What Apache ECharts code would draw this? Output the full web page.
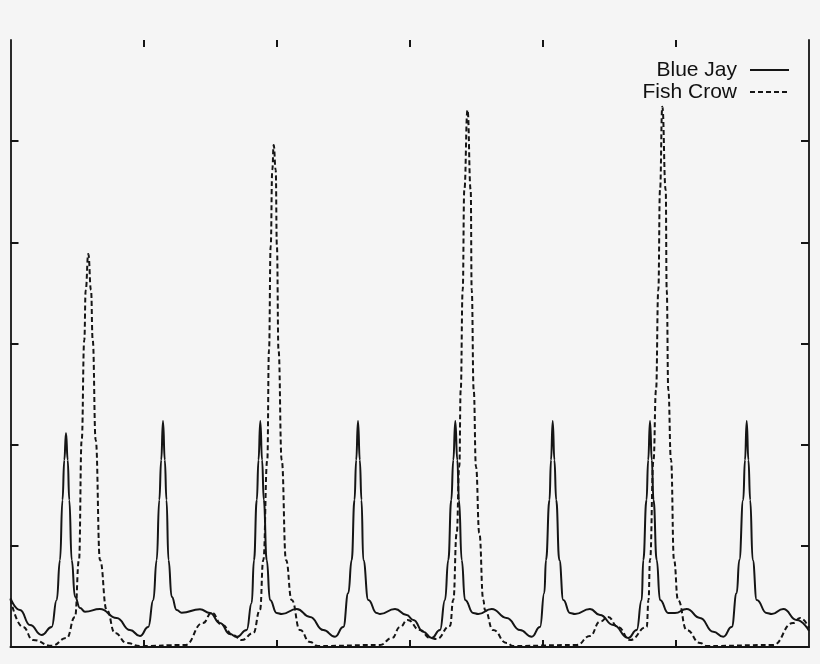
<!DOCTYPE html>
<html>
<head>
<meta charset="utf-8">
<script src="https://cdn.jsdelivr.net/npm/echarts@6/dist/echarts.min.js"></script>
<style>
html,body{margin:0;padding:0;background:#f5f5f5;}
#chart{width:820px;height:664px;}
</style>
</head>
<body>
<div id="chart"></div>
<script>
// Series names
const seriesNames = ['Blue Jay', 'Fish Crow'];

// Blue Jay (solid)
const blueJayX = [0, 7.14, 14.65, 23.44, 30.96, 34.72, 37.2, 39.07, 40.43, 41.7, 42.98, 44.18, 45.99, 48.47, 52.23, 55.98, 67.25, 79.8, 89.79,
  97.31, 103.54, 107.3, 109.86, 111.81, 113.24, 114.59, 115.94, 117.22, 118.72, 121.13, 124.88, 128.64, 142.39, 149.91, 157.42, 164.93,
  169.97, 177.48, 181.24, 182.97, 185.07, 186.35, 187.7, 189.05, 190.33, 192.51, 194.99, 200.03, 203.78, 215.05, 225.05, 235.04,
  243.83, 250.07, 253.83, 256.38, 258.49, 259.76, 261.12, 262.47, 263.74, 265.1, 268.86, 275.17, 277.65, 288.92, 297.71, 302.67, 310.18,
  316.49, 322.73, 326.49, 328.97, 331.22, 332.73, 334.23, 335.73, 337.01, 339.04, 341.52, 347.75, 351.51, 361.58, 372.85, 382.84,
  391.64, 397.88, 401.11, 402.38, 405.01, 406.14, 407.42, 408.7, 410.05, 412.38, 415.38, 420.42, 424.17, 435.44, 442.96, 452.95,
  464.22, 470.53, 474.29, 475.49, 477.9, 479.17, 480.53, 481.88, 483.16, 485.56, 488.04, 494.28, 499.31, 508.11, 518.1, 528.09,
  535.61, 541.92, 545.68, 547.63, 550.56, 551.91, 553.19, 554.47, 555.82, 557.7, 560.71, 568.22, 571.98, 580.7, 590.77, 600];
const blueJayY = [0.48, 0.366, 0.217, 0.119, 0.198, 0.465, 0.86, 1.453, 1.848, 2.115, 1.848, 1.453, 0.86, 0.497, 0.385, 0.349, 0.376, 0.287, 0.168,
  0.109, 0.198, 0.465, 0.86, 1.453, 1.848, 2.234, 1.848, 1.453, 0.86, 0.497, 0.366, 0.339, 0.373, 0.336, 0.237, 0.128,
  0.099, 0.168, 0.435, 0.86, 1.453, 1.848, 2.234, 1.848, 1.453, 0.86, 0.465, 0.336, 0.326, 0.376, 0.297, 0.168,
  0.102, 0.198, 0.534, 0.86, 1.453, 1.848, 2.234, 1.848, 1.453, 0.86, 0.465, 0.336, 0.326, 0.376, 0.316, 0.267, 0.151,
  0.089, 0.168, 0.465, 0.86, 1.453, 1.848, 2.234, 1.848, 1.453, 0.86, 0.465, 0.336, 0.326, 0.376, 0.287, 0.168,
  0.102, 0.198, 0.534, 0.86, 1.453, 1.848, 2.234, 1.848, 1.453, 0.86, 0.465, 0.336, 0.326, 0.376, 0.316, 0.217,
  0.089, 0.168, 0.465, 0.86, 1.453, 1.848, 2.234, 1.848, 1.453, 0.86, 0.465, 0.336, 0.336, 0.376, 0.287, 0.151,
  0.102, 0.198, 0.534, 0.86, 1.453, 1.848, 2.234, 1.848, 1.453, 0.86, 0.465, 0.336, 0.326, 0.376, 0.267, 0.16];

// Fish Crow (dashed)
const fishCrowX = [0, 9.39, 16.91, 30.96, 42.23, 48.47, 51.47, 53.5, 55.45, 56.51, 58.46, 60.49, 61.77, 64.02, 67.25, 72.29, 78.52, 87.32,
  97.31, 131.12, 144.65, 151.18, 158.92, 167.19, 173.73, 182.44, 187.48, 189.96, 192.96, 194.24, 195.51, 196.71, 197.76, 199.27,
  200.17, 201.38, 203.78, 207.01, 211.29, 217.53, 225.05, 231.06, 277.65, 286.67, 292.68, 298.31, 307.71, 315.22, 320.25, 330.25,
  332.73, 335.28, 337.24, 338.29, 339.79, 340.99, 343.4, 345.8, 346.55, 348.05, 349.78, 352.26, 355.27, 356.55, 362.56, 372.85,
  377.58, 425.45, 435.44, 442.96, 448.97, 456.49, 465.5, 478.06, 479.41, 480.53, 483.16, 485.06, 486.78, 488.04, 489.77, 492.33,
  493.08, 494.28, 496.31, 498.56, 501.57, 508.11, 518.1, 523.14, 572.96, 587.99, 593.25, 600];
const fishCrowY = [0.474, 0.198, 0.069, 0.013, 0.089, 0.297, 0.86, 2.046, 3.034, 3.529, 3.884, 3.529, 3.034, 2.046, 0.86, 0.366, 0.138, 0.04,
  0.01, 0.02, 0.237, 0.339, 0.217, 0.119, 0.069, 0.138, 0.366, 0.86, 1.848, 2.936, 3.964, 4.715, 4.962, 4.715,
  3.964, 2.936, 1.848, 0.86, 0.465, 0.168, 0.049, 0.01, 0.02, 0.089, 0.198, 0.267, 0.168, 0.089, 0.079, 0.208,
  0.465, 1.127, 1.782, 2.54, 3.529, 4.517, 5.308, 4.517, 3.529, 2.54, 1.782, 1.127, 0.465, 0.366, 0.168, 0.04,
  0.01, 0.02, 0.109, 0.25, 0.297, 0.198, 0.069, 0.198, 0.465, 0.86, 1.848, 2.54, 3.529, 4.517, 5.34, 4.517,
  3.529, 2.54, 1.848, 0.86, 0.465, 0.168, 0.04, 0.01, 0.02, 0.237, 0.287, 0.188];

// Tick positions (no labels shown in the reference)
const xTicks = [100, 200, 300, 400, 500];
const yTicks = [1, 2, 3, 4, 5];

const zip = (xs, ys) => xs.map((x, i) => [x, ys[i]]);
const ink = '#151515';

const chart = echarts.init(document.getElementById('chart'), null, {renderer: 'canvas'});

function xAxisDef(pos, showLine) {
  return {
    type: 'value', position: pos, min: 0, max: 600, interval: 100,
    axisLine: {show: showLine, onZero: false, lineStyle: {color: ink, width: 2}},
    axisTick: {show: true, inside: true, length: 7, customValues: xTicks, lineStyle: {color: ink, width: 2}},
    axisLabel: {show: false},
    splitLine: {show: false}
  };
}
function yAxisDef(pos) {
  return {
    type: 'value', position: pos, min: 0, max: 6, interval: 1,
    axisLine: {show: true, onZero: false, lineStyle: {color: ink, width: 1.8}},
    axisTick: {show: true, inside: true, length: 8, customValues: yTicks, lineStyle: {color: ink, width: 2}},
    axisLabel: {show: false},
    splitLine: {show: false}
  };
}

chart.setOption({
  backgroundColor: '#f5f5f5',
  animation: false,
  grid: {left: 10.5, right: 11, top: 40, bottom: 17, containLabel: false},
  xAxis: [xAxisDef('bottom', true), xAxisDef('top', false)],
  yAxis: [yAxisDef('left'), yAxisDef('right')],
  legend: {
    orient: 'vertical', right: 25, top: 54, align: 'right',
    itemWidth: 39, itemHeight: 14, itemGap: 0,
    itemStyle: {color: 'rgba(0,0,0,0)', borderColor: 'rgba(0,0,0,0)', borderWidth: 0},
    textStyle: {fontFamily: 'Liberation Sans, Arial, sans-serif', fontSize: 21, color: '#111', lineHeight: 22, padding: [0, 8, 0, 0]},
    data: seriesNames
  },
  series: [
    {
      name: seriesNames[0], type: 'line', xAxisIndex: 0, yAxisIndex: 0,
      data: zip(blueJayX, blueJayY), showSymbol: false, symbol: 'none',
      smooth: 0.5, smoothMonotone: 'x',
      lineStyle: {color: ink, width: 2, type: 'solid'},
      itemStyle: {color: ink}
    },
    {
      name: seriesNames[1], type: 'line', xAxisIndex: 0, yAxisIndex: 0,
      data: zip(fishCrowX, fishCrowY), showSymbol: false, symbol: 'none',
      smooth: 0.5, smoothMonotone: 'x',
      lineStyle: {color: ink, width: 2, type: [5, 3]},
      itemStyle: {color: ink}
    }
  ]
});
</script>
</body>
</html>
